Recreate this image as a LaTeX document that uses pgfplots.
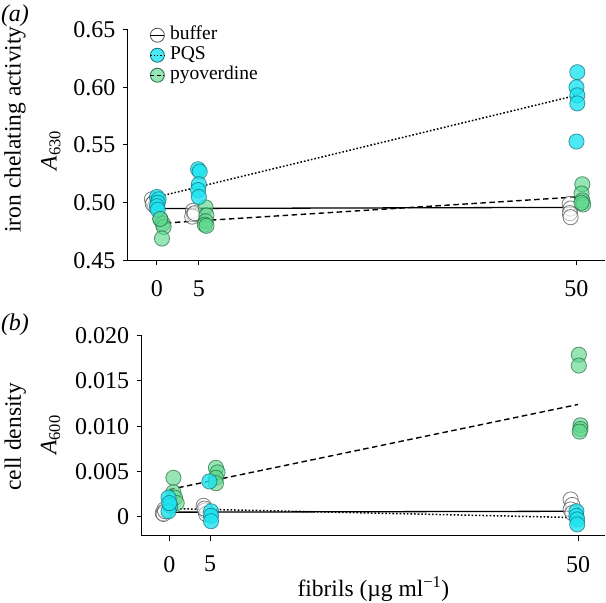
\documentclass[border=0pt]{standalone}
\usepackage{fontspec}
\setmainfont{Liberation Serif}
\usepackage{pgfplots}
\pgfplotsset{compat=1.18}
\definecolor{pqsfill}{RGB}{30,228,240}
\definecolor{pqsedge}{RGB}{20,110,120}
\definecolor{pyofill}{RGB}{95,215,140}
\definecolor{pyoedge}{RGB}{35,105,65}
\definecolor{buffedge}{RGB}{80,80,80}
\pgfplotsset{
  myaxis/.style={
    scale only axis, axis lines=left,
    axis line style={-, line width=1pt},
    tick align=outside, major tick length=5pt,
    tick style={black, line width=1pt},
    xtick={0,5,50}, xticklabels={0,5,50},
    scaled ticks=false,
    ticklabel style={font=\fontsize{24}{28}\selectfont},
    xticklabel style={yshift=-12pt},
    yticklabel style={xshift=-4pt},
    label style={font=\fontsize{23.5}{28}\selectfont},
    clip=false,
  },
  buf/.style={only marks, mark=*, mark size=7.6pt,
    mark options={fill=white, fill opacity=0.45, draw=buffedge, draw opacity=0.75, line width=0.8pt}},
  pqs/.style={only marks, mark=*, mark size=7.6pt,
    mark options={fill=pqsfill, fill opacity=0.8, draw=pqsedge, draw opacity=0.7, line width=0.8pt}},
  pyo/.style={only marks, mark=*, mark size=7.6pt,
    mark options={fill=pyofill, fill opacity=0.65, draw=pyoedge, draw opacity=0.7, line width=0.8pt}},
  lsolid/.style={black, line width=1.3pt, no marks, forget plot},
  ldot/.style={black, line width=1.5pt, dash pattern=on 1.6pt off 2pt, no marks, forget plot},
  ldash/.style={black, line width=1.4pt, dash pattern=on 5.5pt off 3.5pt, no marks, forget plot},
}
\begin{document}
\begin{tikzpicture}[x=1pt,y=1pt]
\useasboundingbox (0,0) rectangle (606,603);
% ---------- panel (a) ----------
\begin{axis}[myaxis,
  at={(128pt,342.5pt)}, anchor=south west,
  width=477pt, height=231pt,
  xmin=-3.45, xmax=53.4, ymin=0.45, ymax=0.65,
  ytick={0.45,0.50,0.55,0.60,0.65},
  yticklabels={0.45,0.50,0.55,0.60,0.65},
  ylabel={iron chelating activity},
  ylabel style={at={(axis description cs:-0.237,0.567)}, anchor=center},
  legend style={draw=none, fill=none, at={(axis description cs:0.045,1.015)}, anchor=north west,
    font=\fontsize{19.5}{20}\selectfont, inner sep=0pt, row sep=2pt,
    nodes={inner xsep=5pt, inner ysep=0pt, text height=13.5pt, text depth=4.5pt}},
  legend cell align=left,
]
\addplot[buf, legend image code/.code={
  \draw[fill=white, draw=buffedge, line width=0.8pt] (7pt,0pt) circle (7pt);
  \draw[black, line width=1.2pt] (0pt,0pt) -- (14pt,0pt);}]
  coordinates {(-0.6,0.503) (-0.4,0.500) (-0.2,0.497) (-0.5,0.499)
               (4.3,0.493) (4.4,0.490) (4.2,0.488) (4.5,0.491)
               (49.2,0.499) (49.3,0.495) (49.2,0.491) (49.3,0.4875)};
\addlegendentry{buffer}
\addplot[pyo, forget plot]
  coordinates {(0.4,0.486) (0.7,0.482) (0.8,0.479) (0.6,0.469)
               (5.8,0.496) (5.9,0.489) (5.8,0.484) (5.7,0.481) (5.9,0.480)
               (50.7,0.516) (50.6,0.508) (50.7,0.502) (50.8,0.4985) (50.6,0.500)};
\addplot[pqs, legend image code/.code={
  \draw[fill=pqsfill, fill opacity=0.8, draw=pqsedge, line width=0.8pt] (7pt,0pt) circle (7pt);
  \draw[black, line width=1.4pt, dash pattern=on 1.5pt off 1.8pt] (0pt,0pt) -- (14pt,0pt);}]
  coordinates {(0.0,0.505) (0.2,0.503) (0.1,0.500) (0.0,0.497) (0.1,0.494)
               (4.9,0.529) (5.1,0.527) (5.0,0.516) (4.9,0.511) (5.0,0.505)
               (50.1,0.613) (50.0,0.600) (50.1,0.593) (50.1,0.586) (50.0,0.553)};
\addlegendentry{PQS}
\addplot[pyo, draw=none, mark=none, legend image code/.code={
  \draw[fill=pyofill, fill opacity=0.65, draw=pyoedge, line width=0.8pt] (7pt,0pt) circle (7pt);
  \draw[black, line width=1.3pt, dash pattern=on 4pt off 2.5pt] (0pt,0pt) -- (14pt,0pt);}]
  coordinates {(0.4,0.486)};
\addlegendentry{pyoverdine}
\addplot[lsolid] coordinates {(0,0.495) (50,0.496)};
\addplot[ldot] coordinates {(0,0.505) (50,0.593)};
\addplot[ldash] coordinates {(0,0.482) (50,0.505)};
\node[rotate=90, font=\fontsize{23.5}{28}\selectfont] at (axis description cs:-0.162,0.476) {\textit{A}\textsubscript{630}};
\end{axis}
% ---------- panel (b) ----------
\begin{axis}[myaxis,
  at={(141.7pt,67.3pt)}, anchor=south west,
  width=463.3pt, height=200pt,
  xmin=-3.38, xmax=53.3, ymin=-0.0021, ymax=0.020,
  ytick={0,0.005,0.010,0.015,0.020},
  yticklabels={0,0.005,0.010,0.015,0.020},
  ylabel={cell density},
  ylabel style={at={(axis description cs:-0.273,0.495)}, anchor=center},
  xlabel={fibrils (µg ml\textsuperscript{−1})},
  xlabel style={at={(axis description cs:0.5,-0.268)}, anchor=center},
]
\addplot[buf]
  coordinates {(-0.8,0.0004) (-0.6,0.0008) (-0.7,0.0003) (-0.5,0.0006)
               (4.2,0.0012) (4.4,0.0007) (4.5,0.0003) (4.3,0.0009)
               (49.1,0.0019) (49.3,0.0013) (49.1,0.0008) (49.3,0.0004)};
\addplot[pyo]
  coordinates {(0.5,0.0043) (0.5,0.0027) (0.7,0.0021) (0.9,0.0015)
               (5.7,0.0054) (5.9,0.0049) (5.7,0.0043) (5.7,0.0037)
               (50.1,0.0179) (50.1,0.0167) (50.3,0.0101) (50.3,0.0097) (50.2,0.0094)};
\addplot[pqs]
  coordinates {(-0.1,0.0021) (0.1,0.0012) (-0.1,0.0006) (0.0,0.0015)
               (4.9,0.0039) (5.1,0.0006) (5.1,0.0001) (5.1,-0.0005)
               (49.8,0.0006) (49.8,0.0001) (49.9,-0.0003) (49.9,-0.00085)};
\addplot[lsolid] coordinates {(0,0.0005) (50,0.0006)};
\addplot[ldot] coordinates {(0,0.0009) (50,-0.0001)};
\addplot[ldash] coordinates {(0,0.0030) (50,0.0124)};
\node[rotate=90, font=\fontsize{23.5}{28}\selectfont] at (axis description cs:-0.1965,0.5035) {\textit{A}\textsubscript{600}};
\end{axis}
\node[font=\fontsize{24}{28}\selectfont] at (15,587) {\textit{(a)}};
\node[font=\fontsize{24}{28}\selectfont] at (15,278) {\textit{(b)}};
\end{tikzpicture}
\end{document}
